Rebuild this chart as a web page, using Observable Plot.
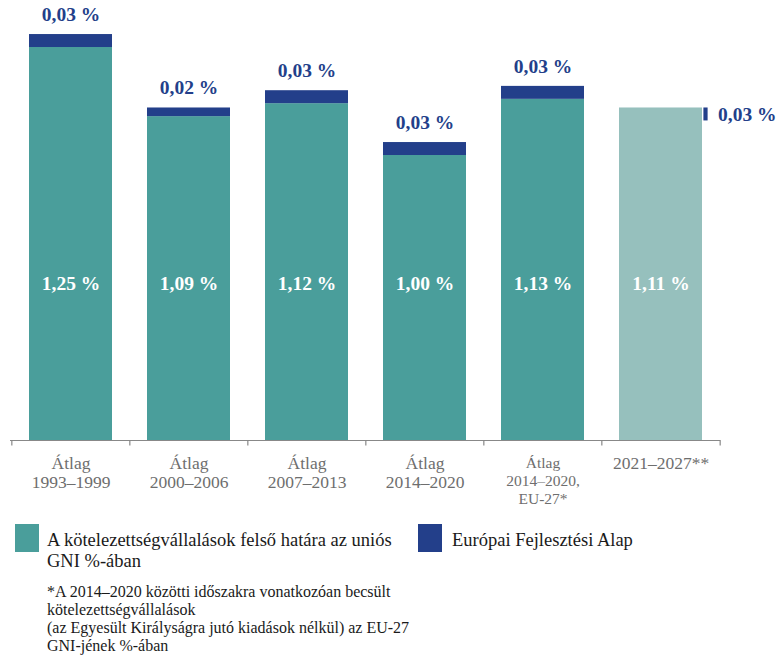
<!DOCTYPE html>
<html>
<head>
<meta charset="utf-8">
<script src="https://cdn.jsdelivr.net/npm/d3@7"></script>
<script src="https://cdn.jsdelivr.net/npm/@observablehq/plot@0.6"></script>
<style>
  body { margin: 0; background: #fff; }
  #wrap { position: relative; width: 780px; height: 657px; font-family: "Liberation Serif", "Times New Roman", serif; }
  #chart { position: absolute; left: 0; top: 0; }
  .sw { position: absolute; width: 24px; height: 28px; }
  .lt { position: absolute; font-size: 18.5px; line-height: 21px; color: #1a1a1a; white-space: nowrap; }
  .fn { position: absolute; font-size: 16px; line-height: 18px; color: #1a1a1a; white-space: nowrap; }
</style>
</head>
<body>
<div id="wrap">
  <div id="chart"></div>
  <div class="sw" style="left:15px; top:524px; background:#4a9e9b;"></div>
  <div class="lt" style="left:47px; top:530px;">A kötelezettségvállalások felső határa az uniós<br>GNI %-ában</div>
  <div class="sw" style="left:418px; top:524px; background:#233f8a;"></div>
  <div class="lt" style="left:452px; top:530px;">Európai Fejlesztési Alap</div>
  <div class="fn" style="left:47px; top:583px;">*A 2014–2020 közötti időszakra vonatkozóan becsült<br>kötelezettségvállalások<br>(az Egyesült Királyságra jutó kiadások nélkül) az EU-27<br>GNI-jének %-ában</div>
</div>
<script>
const periods = ["1993–1999", "2000–2006", "2007–2013", "2014–2020", "2014–2020 EU-27", "2021–2027"];
const tickLabels = ["Átlag\n1993–1999", "Átlag\n2000–2006", "Átlag\n2007–2013", "Átlag\n2014–2020", "Átlag\n2014–2020,\nEU-27*", "2021–2027**"];
const ceiling = [1.25, 1.09, 1.12, 1.00, 1.13, 1.11];
const edf = [0.03, 0.02, 0.03, 0.03, 0.03, 0.03];
const edfStacked = [true, true, true, true, true, false];
const projected = [false, false, false, false, false, true];

const fmt = v => v.toFixed(2).replace(".", ",") + " %";
const rows = periods.map((p, i) => ({
  period: p, tick: tickLabels[i], ceiling: ceiling[i], edf: edf[i],
  stacked: edfStacked[i], projected: projected[i], small: i === 4
}));

const yMin = 0.3403;
const yMax = 1.3588;
const W = 780, H = 510, mL = 10, mR = 60;
const step = (W - mL - mR) / periods.length;
const teal = "#4a9e9b", light = "#96c0bd", navy = "#233f8a";
const serif = "'Liberation Serif', 'Times New Roman', serif";

const chart = Plot.plot({
  width: W, height: H,
  marginLeft: mL, marginRight: mR, marginTop: 0, marginBottom: H - 440,
  style: { fontFamily: serif, background: "#fff" },
  x: { domain: periods, paddingInner: 0.3, paddingOuter: 0.15, axis: null },
  y: { domain: [yMin, yMax], axis: null },
  marks: [
    Plot.barY(rows, { x: "period", y1: () => yMin, y2: "ceiling", fill: d => d.projected ? light : teal }),
    Plot.barY(rows.filter(d => d.stacked), { x: "period", y1: "ceiling", y2: d => d.ceiling + d.edf, fill: navy }),
    Plot.barY(rows.filter(d => !d.stacked), { x: "period", y1: d => d.ceiling - d.edf, y2: "ceiling", fill: navy, dx: 45, insetLeft: 39.4, insetRight: 39.4 }),
    Plot.text(rows.filter(d => d.stacked), { x: "period", y: d => d.ceiling + d.edf, text: d => fmt(d.edf), dy: -20, fill: navy, fontSize: 19.5, fontWeight: "bold" }),
    Plot.text(rows.filter(d => !d.stacked), { x: "period", y: d => d.ceiling - d.edf / 2, text: d => fmt(d.edf), dx: 57, textAnchor: "start", fill: navy, fontSize: 19.5, fontWeight: "bold" }),
    Plot.text(rows, { x: "period", y: () => 0.704, text: d => fmt(d.ceiling), fill: "white", fontSize: 19.5, fontWeight: "bold" }),
    Plot.ruleY([yMin], { stroke: "#888", strokeWidth: 1.2 }),
    Plot.ruleX(rows, { x: "period", y1: () => yMin, y2: () => yMin - 0.013, dx: -step / 2, stroke: "#888", strokeWidth: 1.2 }),
    Plot.ruleX(rows.slice(-1), { x: "period", y1: () => yMin, y2: () => yMin - 0.013, dx: step / 2, stroke: "#888", strokeWidth: 1.2 }),
    Plot.text(rows.filter(d => !d.small), { x: "period", y: () => yMin, text: "tick", dy: 15, lineAnchor: "top", lineHeight: 1.1, fill: "#6e6e6e", fontSize: 17.5 }),
    Plot.text(rows.filter(d => d.small), { x: "period", y: () => yMin, text: "tick", dy: 15, lineAnchor: "top", lineHeight: 1.15, fill: "#6e6e6e", fontSize: 15.5 })
  ]
});
document.getElementById("chart").appendChild(chart);
</script>
</body>
</html>
